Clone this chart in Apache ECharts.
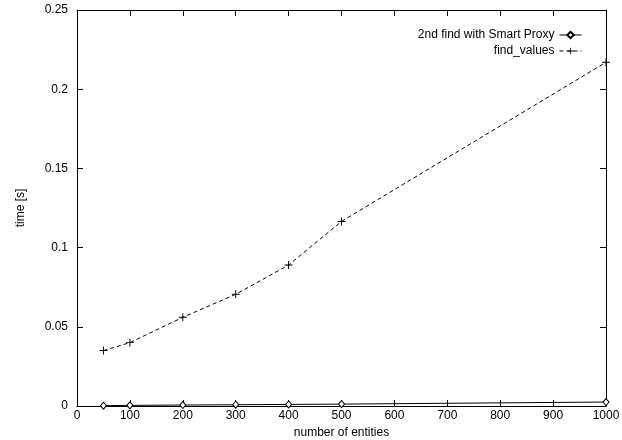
<!DOCTYPE html>
<html>
<head>
<meta charset="utf-8">
<script src="https://cdn.jsdelivr.net/npm/echarts@6/dist/echarts.min.js"></script>
<style>
  html, body { margin: 0; padding: 0; background: #fff; }
  #chart { width: 622px; height: 440px; }
</style>
</head>
<body>
<div id="chart"></div>
<script>
// measured values (seconds) per number of entities
let entities = [50, 100, 200, 300, 400, 500, 1000];
let smartProxy = [0.0002, 0.0004, 0.0006, 0.0008, 0.001, 0.0012, 0.0025];
let findValues = [0.035, 0.040, 0.056, 0.0705, 0.089, 0.1165, 0.217];

let pairs = (ys) => entities.map((x, i) => [x, ys[i]]);

let font = "Liberation Sans";
let plus = "path://M4.4,0h1.2v10h-1.2z M0,4.4h10v1.2h-10z";

// gnuplot-like border: ticks pointing inwards on all four sides
let tickStyle = () => ({ show: true, inside: true, length: 6, lineStyle: { color: "#000", width: 1 } });
let lineAxis = () => ({ show: true, onZero: false, lineStyle: { color: "#000", width: 1 } });

let chart = echarts.init(document.getElementById("chart"));
chart.setOption({
  animation: false,
  backgroundColor: "#fff",
  textStyle: { fontFamily: font },
  grid: { left: 77, right: 16, top: 10, bottom: 34, containLabel: false, outerBoundsMode: "none" },
  legend: {
    orient: "vertical",
    right: 35,
    top: 24,
    align: "right",
    itemWidth: 22,
    itemHeight: 8,
    itemGap: 4,
    lineStyle: { width: 1 },
    textStyle: { fontFamily: font, fontSize: 12, color: "#000" },
    data: ["2nd find with Smart Proxy", "find_values"],
  },
  xAxis: [
    {
      type: "value",
      min: 0,
      max: 1000,
      interval: 100,
      name: "number of entities",
      nameLocation: "middle",
      nameGap: 18,
      nameTextStyle: { fontFamily: font, fontSize: 12, color: "#000" },
      axisLine: lineAxis(),
      axisTick: tickStyle(),
      splitLine: { show: false },
      axisLabel: { color: "#000", fontSize: 12, margin: 4, formatter: (v) => String(v) },
    },
    {
      type: "value",
      position: "top",
      min: 0,
      max: 1000,
      interval: 100,
      axisLine: lineAxis(),
      axisTick: tickStyle(),
      splitLine: { show: false },
      axisLabel: { show: false },
    },
  ],
  yAxis: [
    {
      type: "value",
      min: 0,
      max: 0.25,
      interval: 0.05,
      name: "time [s]",
      nameLocation: "middle",
      nameGap: 50,
      nameTextStyle: { fontFamily: font, fontSize: 12, color: "#000" },
      axisLine: lineAxis(),
      axisTick: tickStyle(),
      splitLine: { show: false },
      axisLabel: { color: "#000", fontSize: 12, margin: 9 },
    },
    {
      type: "value",
      position: "right",
      min: 0,
      max: 0.25,
      interval: 0.05,
      axisLine: lineAxis(),
      axisTick: tickStyle(),
      splitLine: { show: false },
      axisLabel: { show: false },
    },
  ],
  series: [
    {
      name: "2nd find with Smart Proxy",
      type: "line",
      data: pairs(smartProxy),
      symbol: "diamond",
      symbolSize: [6, 7],
      itemStyle: { color: "#fff", borderColor: "#000", borderWidth: 1 },
      lineStyle: { color: "#000", width: 1 },
    },
    {
      name: "find_values",
      type: "line",
      data: pairs(findValues),
      symbol: plus,
      symbolSize: 8,
      itemStyle: { color: "#000" },
      lineStyle: { color: "#000", width: 1, type: [4, 3] },
    },
  ],
});
</script>
</body>
</html>
